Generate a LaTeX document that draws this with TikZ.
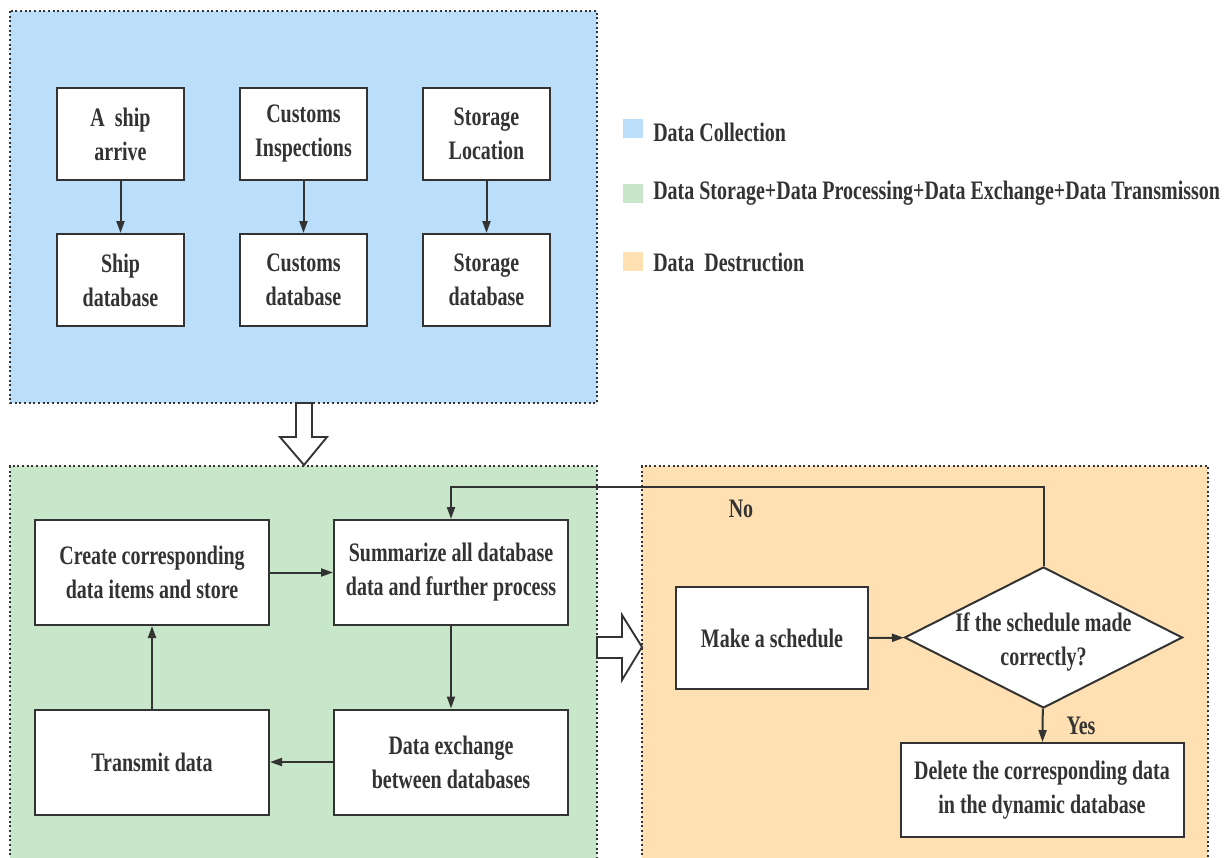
\documentclass[tikz,border=0pt]{standalone}
\usepackage{fontspec}
\setmainfont{Liberation Serif}[FakeStretch=0.75]
\usepackage{tikz}
\usetikzlibrary{arrows.meta,shapes.geometric}
\definecolor{collectblue}{HTML}{BBDEFB}
\definecolor{storegreen}{HTML}{C8E6C9}
\definecolor{destroyorange}{HTML}{FFE0B2}
\definecolor{linegray}{HTML}{333333}
\newdimen\pxu \pxu=0.75pt

\begin{document}
\begin{tikzpicture}[x=0.75pt,y=-0.75pt,font=\fontsize{20}{25.5}\selectfont\bfseries,text=linegray,
  stage/.style={draw=linegray,line width=1.1pt,dash pattern=on 1.6pt off 1.9pt},
  box/.style n args={2}{draw=linegray,fill=white,line width=1.5pt,minimum width=#1\pxu,minimum height=#2\pxu,inner sep=0pt,align=center},
  flow/.style={draw=linegray,line width=1.5pt,-{Triangle[length=9pt,width=6pt]}},
  hollow/.style={draw=linegray,fill=white,line width=1.4pt},
  key/.style={minimum width=20\pxu,minimum height=19\pxu,inner sep=0pt}]
\useasboundingbox (0,0) rectangle (1227,857);
% stages
\fill[collectblue] (10,11) rectangle (597,403);
\draw[stage] (10,11) rectangle (597,403);
\fill[storegreen] (10,466) rectangle (597,860);
\draw[stage] (10,860) -- (10,466) -- (597,466) -- (597,860);
\fill[destroyorange] (642,466) rectangle (1208,860);
\draw[stage] (642,860) -- (642,466) -- (1208,466) -- (1208,860);
% hollow arrows between stages
\draw[hollow] (296,403) -- (312,403) -- (312,437) -- (327,437) -- (304,465) -- (280,437) -- (296,437) -- cycle;
\draw[hollow] (597,637) -- (622,637) -- (622,615) -- (642,647) -- (622,680) -- (622,658) -- (597,658) -- cycle;
% legend
\node[key,fill=collectblue] (keyA) at (633,128) {};
\node[key,fill=storegreen] (keyB) at (633,193) {};
\node[key,fill=destroyorange] (keyC) at (633,261) {};
\node[anchor=west,inner sep=0pt] at (653,132) {Data Collection};
\node[anchor=west,inner sep=0pt] at (653,193) {Data Storage+Data Processing+Data Exchange+Data Transmisson};
\node[anchor=west,inner sep=0pt] at (653,262) {Data\ \ Destruction};
% data collection
\foreach \x/\n/\src/\db in %
{120.5/ship/{A\ \ ship\\arrive}/{Ship\\database},
 303.5/customs/{Customs\\Inspections}/{Customs\\database},
 486.5/storage/{Storage\\Location}/{Storage\\database}} {
   \node[box={127}{92}] (\n) at (\x,134) {\src};
   \node[box={127}{92}] (\n db) at (\x,280) {\db};
   \draw[flow] (\n) -- (\n db);
}
% storage, processing, exchange, transmission
\node[box={234}{105}] (create) at (152,572.5) {Create corresponding\\data items and store};
\node[box={234}{105}] (summarize) at (451,572.5) {Summarize all database\\data and further process};
\node[box={234}{105}] (transmit) at (152,762) {Transmit data};
\node[box={234}{105}] (exchange) at (451,762) {Data exchange\\between databases};
\draw[flow] (create) -- (summarize);
\draw[flow] (summarize) -- (exchange);
\draw[flow] (exchange) -- (transmit);
\draw[flow] (transmit) -- (create);
% destruction
\node[box={192}{102}] (schedule) at (772,638) {Make a schedule};
\node[diamond,draw=linegray,fill=white,line width=1.5pt,minimum width=278\pxu,minimum height=141\pxu,inner sep=0pt] (check) at (1043.5,637.5) {};
\node[align=center] at ([yshift=-4\pxu]check.center) {If the schedule made\\correctly?};
\node[box={283}{94}] (delete) at (1042,790) {Delete the corresponding data\\in the dynamic database};
\draw[flow] (schedule) -- (check);
\draw[flow] (check) -- (delete);
\draw[flow] (check.north) -- (1043.5,487) -| (summarize.north);
\node at (741,509) {No};
\node at (1081,726) {Yes};
\end{tikzpicture}
\end{document}
